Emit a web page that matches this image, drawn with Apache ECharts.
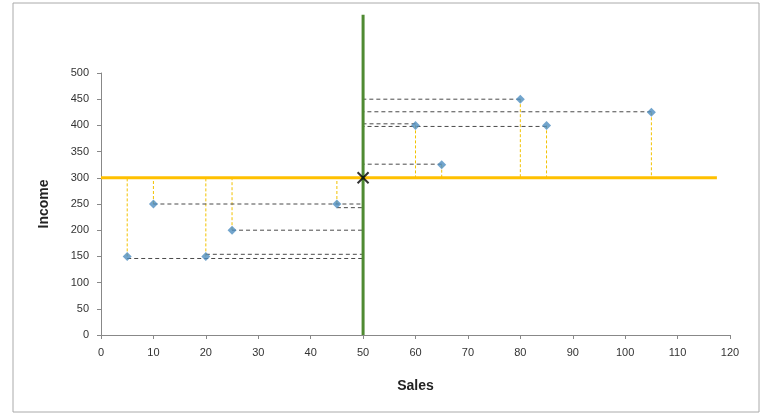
<!DOCTYPE html>
<html>
<head>
<meta charset="UTF-8">
<title>Sales vs Income</title>
<style>
  body { margin: 0; background: #fff; }
  #main { width: 768px; height: 417px; }
</style>
</head>
<body>
<div id="main"></div>
<script src="https://cdn.jsdelivr.net/npm/echarts@6/dist/echarts.min.js"></script>
<script>
  // points
  var salesX = [5, 10, 20, 25, 45, 60, 65, 80, 85, 105];
  var incomeY = [150, 250, 150, 200, 250, 400, 325, 450, 400, 425];
  // y used for each horizontal dashed guide (slightly shifted where they overlap)
  var guideY = [146, 250, 154, 200, 243, 403, 326, 450, 398, 426];
  // crossing lines
  var midX = 50, midY = 300;
  var yellowEnd = 117.5;
  var greenTop = 611;

  var series = [];

  // vertical yellow dashes: point -> income 300
  salesX.forEach(function (x, i) {
    series.push({
      type: 'line', symbol: 'none', silent: true, z: 2,
      lineStyle: { color: '#f2c200', width: 1, type: [3, 2] },
      data: [[x, incomeY[i]], [x, midY]]
    });
  });
  // horizontal grey dashes: point -> sales 50
  salesX.forEach(function (x, i) {
    series.push({
      type: 'line', symbol: 'none', silent: true, z: 2,
      lineStyle: { color: '#4a4a4a', width: 1, type: [4, 3] },
      data: [[x, guideY[i]], [midX, guideY[i]]]
    });
  });
  series.push({
    type: 'line', symbol: 'none', z: 3,
    lineStyle: { color: '#ffc000', width: 3 },
    data: [[0, midY], [yellowEnd, midY]]
  });
  series.push({
    type: 'line', symbol: 'none', z: 4, clip: false,
    lineStyle: { color: '#4f8a32', width: 3 },
    data: [[midX, 0], [midX, greenTop]]
  });
  series.push({
    type: 'scatter', z: 5,
    symbol: 'diamond', symbolSize: 9,
    itemStyle: { color: '#4f8fc0' },
    data: salesX.map(function (x, i) { return [x, incomeY[i]]; })
  });
  series.push({
    type: 'scatter', z: 6,
    symbol: 'path://M0,0L10,10M10,0L0,10', symbolSize: 11,
    itemStyle: { color: 'none', borderColor: '#000', borderWidth: 2 },
    data: [[midX, midY]]
  });

  var myChart = echarts.init(document.getElementById('main'));
  var option = {
    animation: false,
    graphic: [{
      type: 'rect',
      shape: { x: 13, y: 3, width: 746, height: 409 },
      style: { fill: 'none', stroke: '#aaaaaa', lineWidth: 1 }
    }],
    grid: { left: 101, right: 38, top: 73, bottom: 82 },
    xAxis: {
      type: 'value', min: 0, max: 120, interval: 10,
      name: 'Sales', nameLocation: 'middle', nameGap: 44,
      nameTextStyle: { fontSize: 14, fontWeight: 'bold', color: '#222' },
      splitLine: { show: false },
      axisLine: { lineStyle: { color: '#888' } },
      axisTick: { length: 4, lineStyle: { color: '#888' } },
      axisLabel: { fontSize: 11, color: '#333', margin: 12 }
    },
    yAxis: {
      type: 'value', min: 0, max: 500, interval: 50,
      name: 'Income', nameLocation: 'middle', nameGap: 50,
      nameTextStyle: { fontSize: 14, fontWeight: 'bold', color: '#222' },
      splitLine: { show: false },
      axisLine: { show: true, lineStyle: { color: '#888' } },
      axisTick: { show: true, length: 4, lineStyle: { color: '#888' } },
      axisLabel: { fontSize: 11, color: '#333', margin: 12 }
    },
    series: series
  };
  myChart.setOption(option);
</script>
</body>
</html>
